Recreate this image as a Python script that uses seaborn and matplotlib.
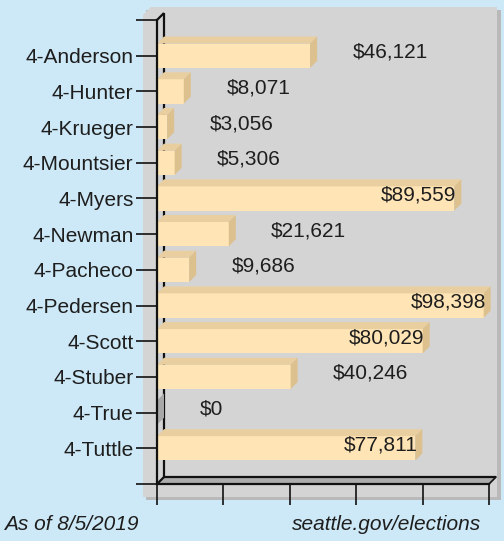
import matplotlib
matplotlib.use("Agg")
import matplotlib.pyplot as plt
import seaborn as sns
from matplotlib.patches import Polygon

candidates = ["4-Anderson", "4-Hunter", "4-Krueger", "4-Mountsier", "4-Myers", "4-Newman",
              "4-Pacheco", "4-Pedersen", "4-Scott", "4-Stuber", "4-True", "4-Tuttle"]
amounts = [46121, 8071, 3056, 5306, 89559, 21621, 9686, 98398, 80029, 40246, 0, 77811]
x_ticks = [0, 20000, 40000, 60000, 80000, 100000]
footer_left = "As of 8/5/2019"
footer_right = "seattle.gov/elections"

W, H = 504, 541
bg = "#cde8f6"
panel = "#d4d4d4"
front = "#ffe4b5"
top_c = "#e9cf9f"
side_c = "#dcc08e"
fs = 15

sns.set_style("white")
plt.rcParams["font.family"] = ["Liberation Sans", "DejaVu Sans"]

fig = plt.figure(figsize=(W / 100, H / 100), dpi=100, facecolor=bg)


def fx(px):
    return px / W


def fy(py):
    return 1 - py / H


# grey panel with shadow
fig.patches.append(Polygon([(fx(146), fy(10)), (fx(501), fy(10)), (fx(501), fy(500)), (fx(146), fy(500))],
                           closed=True, transform=fig.transFigure, facecolor="#b9b9b9",
                           edgecolor="none", zorder=-2))
fig.patches.append(Polygon([(fx(143), fy(15)), (fx(151), fy(7)), (fx(497), fy(7)), (fx(497), fy(497)),
                            (fx(143), fy(497))], closed=True, transform=fig.transFigure,
                           facecolor=panel, edgecolor="none", zorder=-1))

ax = fig.add_axes([fx(157), fy(484), (489 - 157) / W, (484 - 20) / H])
ax.set_facecolor("none")
ax.set_zorder(1)

sns.barplot(x=amounts, y=candidates, orient="h", color=front, saturation=1, width=0.68,
            errorbar=None, ax=ax, zorder=3, edgecolor="none")
bars = list(ax.patches)

ax.set_xlim(0, 100000)
ax.set_ylim(12, -1)

d = 7
dx = d * 100000 / (489 - 157)
dy = d * 13 / (484 - 20)

# 3D frame: back wall and floor
floor = Polygon([(0, 12), (dx, 12 - dy), (100000 + dx, 12 - dy), (100000, 12)], closed=True,
                facecolor="#adadad", edgecolor="none", zorder=1, clip_on=False)
ax.add_patch(floor)
kw = dict(color="#111111", lw=1.6, zorder=2, clip_on=False, solid_capstyle="butt")
ax.plot([dx, dx], [-1 - dy, 12 - dy], **kw)
ax.plot([dx, 100000 + dx], [12 - dy, 12 - dy], **kw)
ax.plot([0, dx], [-1, -1 - dy], **kw)
ax.plot([0, dx], [12, 12 - dy], **kw)
ax.plot([100000, 100000 + dx], [12, 12 - dy], color="#111111", lw=1.2, zorder=2, clip_on=False)

# bar depth faces
for p in bars:
    x0, y0, w, h = p.get_x(), p.get_y(), p.get_width(), p.get_height()
    ax.add_patch(Polygon([(x0, y0), (x0 + w, y0), (x0 + w + dx, y0 - dy), (x0 + dx, y0 - dy)],
                         closed=True, facecolor=top_c, edgecolor="none", zorder=3, clip_on=False))
    ax.add_patch(Polygon([(x0 + w, y0), (x0 + w + dx, y0 - dy), (x0 + w + dx, y0 + h - dy), (x0 + w, y0 + h)],
                         closed=True, facecolor=side_c if w > 0 else "#a8a8a8", edgecolor="none",
                         zorder=3, clip_on=False))

# value labels
for i, v in enumerate(amounts):
    label = f"${v:,}"
    if v > 60000:
        ax.text(v + 600, i - 0.1, label, ha="right", va="center", fontsize=fs,
                color="#1e1e1e", zorder=5)
    else:
        ax.text(v + 12800, i - 0.1, label, ha="left", va="center", fontsize=fs,
                color="#1e1e1e", zorder=5)

ax.set_yticks(range(-1, 13))
ax.set_yticklabels([""] + candidates + [""])
ax.set_xticks(x_ticks)
ax.set_xticklabels([])
ax.tick_params(axis="both", direction="out", length=15, width=1.2, color="#111111",
               labelsize=fs, labelcolor="#1e1e1e", pad=2, left=True, bottom=True)
ax.set_xlabel("")
ax.set_ylabel("")
for s in ["top", "right"]:
    ax.spines[s].set_visible(False)
for s in ["left", "bottom"]:
    ax.spines[s].set_color("#111111")
    ax.spines[s].set_linewidth(1.6)
    ax.spines[s].set_zorder(4)

fig.text(fx(4), fy(524), footer_left, style="italic", fontsize=fs, color="#1e1e1e",
         ha="left", va="center")
fig.text(fx(481), fy(524), footer_right, style="italic", fontsize=fs, color="#1e1e1e",
         ha="right", va="center")

fig.savefig("out.png", dpi=100, facecolor=bg)
